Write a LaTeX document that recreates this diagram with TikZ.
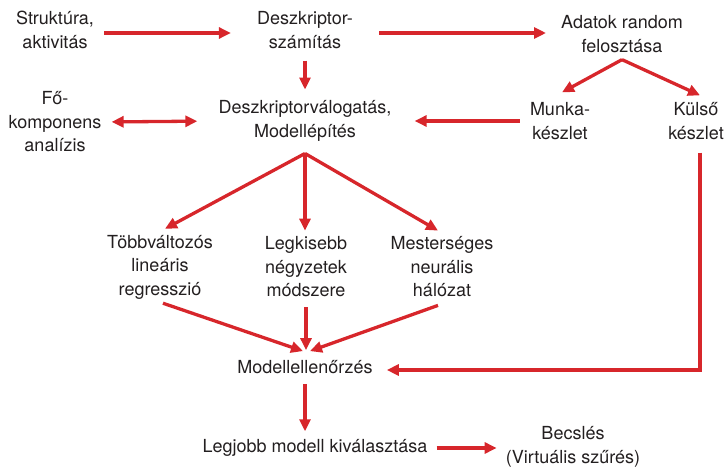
\documentclass[tikz,border=0pt]{standalone}
\usepackage{fontspec}
\setmainfont{TeX Gyre Heros}
\usetikzlibrary{arrows.meta}
\definecolor{flowred}{HTML}{D7262B}
\definecolor{flowtext}{HTML}{231F20}

\begin{document}
\begin{tikzpicture}[x=1pt,y=-1pt,
    txt/.style={align=center,inner sep=0pt,text=flowtext,font=\fontsize{18}{23.5}\selectfont},
    arr/.style={draw=flowred,line width=3.3pt,-{Triangle[length=12pt,width=11pt]}}]
  \useasboundingbox (0,0) rectangle (725,468);

  % top row
  \node[txt] (strukt) at (55,30) {Struktúra,\\aktivitás};
  \node[txt] (deszk) at (305,30) {Deszkriptor-\\számítás};
  \node[txt] (adatok) at (622,34) {Adatok random\\felosztása};

  % second row
  \node[txt] (fokomp) at (55,122) {Fő-\\komponens\\analízis};
  \node[txt] (valog) at (305,121) {Deszkriptorválogatás,\\Modellépítés};
  \node[txt] (munka) at (560,121) {Munka-\\készlet};
  \node[txt] (kulso) at (696,121) {Külső\\készlet};

  % methods
  \node[txt] (tobb) at (160,267) {Többváltozós\\lineáris\\regresszió};
  \node[txt] (legk) at (306,267) {Legkisebb\\négyzetek\\módszere};
  \node[txt] (mest) at (442,267) {Mesterséges\\neurális\\hálózat};

  % bottom
  \node[txt] (ellen) at (305,367) {Modellellenőrzés};
  \node[txt] (legjobb) at (315,448) {Legjobb modell kiválasztása};
  \node[txt] (becsl) at (573,447) {Becslés\\(Virtuális szűrés)};

  \draw[arr,shorten <=10pt,shorten >=26pt] ([yshift=-3pt]strukt.east) -- ([yshift=-3pt]deszk.west);
  \draw[arr,shorten <=26pt,shorten >=15pt] ([yshift=-3pt]deszk.east) -- ([yshift=1pt]adatok.west);
  \draw[arr,shorten <=12pt,shorten >=11pt] (deszk.south) -- (valog.north);
  \draw[arr,{Triangle[length=12pt,width=11pt]}-{Triangle[length=12pt,width=11pt]},shorten <=10pt,shorten >=21pt] (fokomp.east) -- (valog.west);
  \draw[arr,shorten <=10pt,shorten >=23pt] (munka.west) -- (valog.east);

  \draw[arr] ([yshift=-7pt]adatok.south) -- ([xshift=2pt,yshift=10pt]munka.north);
  \draw[arr] ([yshift=-7pt]adatok.south) -- ([xshift=4pt,yshift=7pt]kulso.north);

  \draw[arr] ([yshift=-12pt]valog.south) -- ([xshift=5pt,yshift=6pt]tobb.north);
  \draw[arr] ([yshift=-12pt]valog.south) -- ([xshift=-1pt,yshift=6pt]legk.north);
  \draw[arr] ([yshift=-12pt]valog.south) -- ([xshift=-4pt,yshift=6pt]mest.north);

  \draw[arr] ([xshift=3pt,yshift=-4pt]tobb.south) -- ([xshift=-2pt,yshift=9pt]ellen.north);
  \draw[arr] ([yshift=-10pt]legk.south) -- ([xshift=1pt,yshift=10pt]ellen.north);
  \draw[arr] ([xshift=-4pt,yshift=-8pt]mest.south) -- ([xshift=5pt,yshift=9pt]ellen.north);

  \draw[arr] ([xshift=4pt,yshift=-13pt]kulso.south) |- ([xshift=14pt,yshift=-3pt]ellen.east);
  \draw[arr,shorten <=10pt,shorten >=8pt] (ellen.south) -- (ellen.south |- legjobb.north);
  \draw[arr,shorten <=9pt,shorten >=9pt] (legjobb.east) -- (legjobb.east -| becsl.west);
\end{tikzpicture}
\end{document}
